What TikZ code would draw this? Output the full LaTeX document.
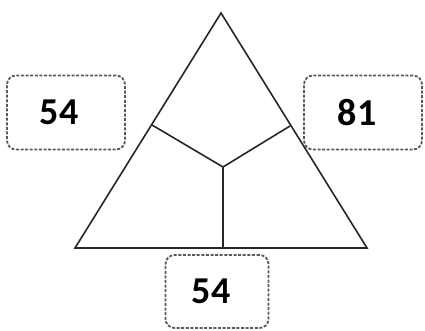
\documentclass[tikz,border=0pt]{standalone}
\usepackage{fontspec}
\setmainfont{Carlito}
\begin{document}
\begin{tikzpicture}[x=1pt,y=-1pt,
  edge/.style={line width=1.6pt, line join=miter, black!85},
  numbox/.style={draw=black!65, line width=1.8pt, dash pattern=on 3pt off 1.6pt,
    rounded corners=9pt, inner sep=0pt, font=\bfseries\fontsize{38}{40}\selectfont}]
\useasboundingbox (0,0) rectangle (425,331);
\coordinate (A) at (221,13);
\coordinate (B) at (75,248);
\coordinate (C) at (367,248);
\coordinate (L) at (152,125);
\coordinate (R) at (290,126);
\coordinate (M) at (223,167);
\coordinate (D) at (223,248);
\draw[edge] (A) -- (B) -- (C) -- cycle;
\draw[edge] (L) -- (M) -- (R);
\draw[edge] (M) -- (D);
\node[numbox, minimum width=118pt, minimum height=74pt] (lb) at (66,112.5) {54\kern14pt};
\node[numbox, minimum width=118pt, minimum height=74pt] (rb) at (363,112.5) {81\kern12pt};
\node[numbox, minimum width=103pt, minimum height=73pt] (bb) at (217,291.5) {54\kern12pt};
\end{tikzpicture}
\end{document}
